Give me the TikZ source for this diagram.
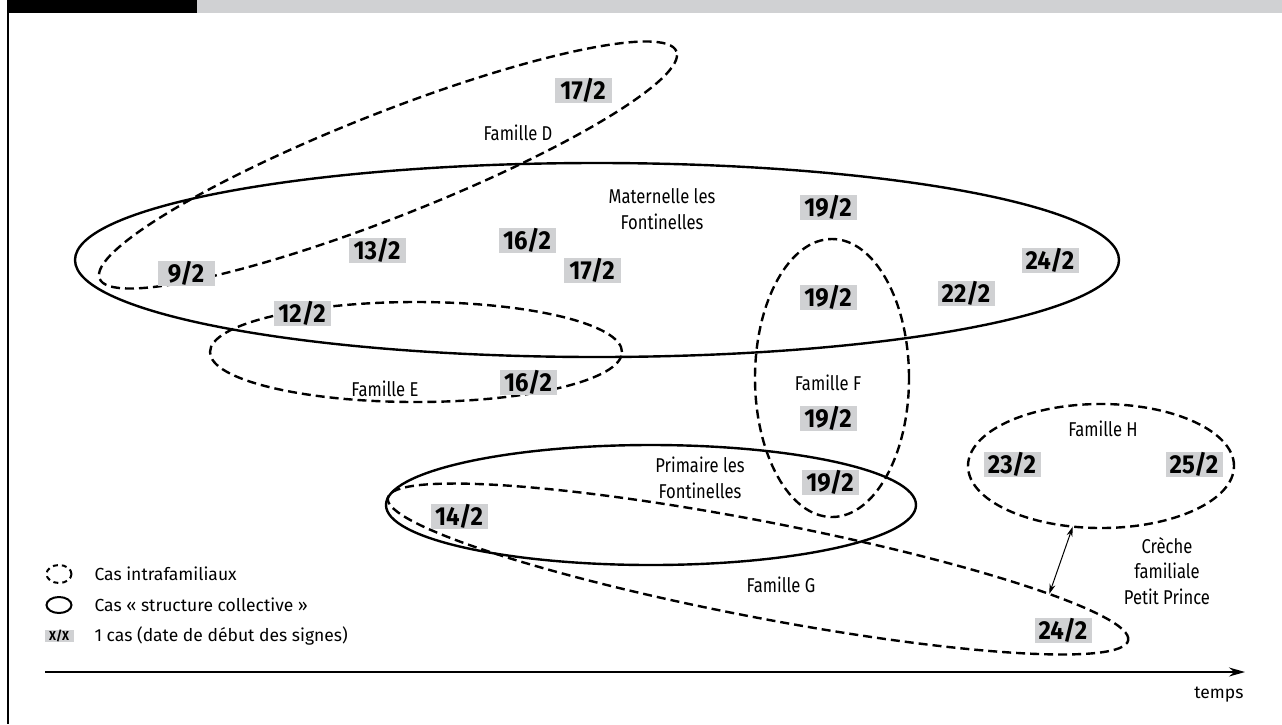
\documentclass[tikz,border=0pt]{standalone}
\usepackage{fontspec}
\setmainfont{Fira Sans}
\newfontfamily\datefont[FakeStretch=0.92]{Fira Sans}
\newfontfamily\labelfont[FakeStretch=0.83]{Fira Sans}
\usetikzlibrary{shapes.geometric,arrows.meta}
\definecolor{boxgray}{RGB}{208,209,211}

\tikzstyle{date} = [fill=boxgray,inner sep=0pt,minimum width=57pt,minimum height=25pt,font=\datefont\bfseries\fontsize{26}{26}\selectfont]
\tikzstyle{grp} = [align=center,font=\labelfont\fontsize{20}{25.5}\selectfont]
\tikzstyle{famille} = [ellipse,draw=black,line width=2.4pt,dash pattern=on 9pt off 5pt,inner sep=0pt,outer sep=0pt]
\tikzstyle{structure} = [ellipse,draw=black,line width=2.4pt,inner sep=0pt,outer sep=0pt]
\tikzstyle{legtext} = [anchor=west,font=\fontsize{17.5}{20}\selectfont]

\begin{document}
\begin{tikzpicture}[x=1pt,y=-1pt]
	\useasboundingbox (0,0) rectangle (1282,724);
	% frame
	\fill[black] (7,0) rectangle (197,13);
	\fill[boxgray] (197,0) rectangle (1282,13);
	\draw[line width=1.7pt] (8,13) -- (8,724);
	% structures
	\node (mat) [structure,minimum width=1044pt,minimum height=194pt] at (597,260) {};
	\node (prim) [structure,minimum width=530pt,minimum height=120pt] at (651,505) {};
	% familles
	\node (famD) [famille,minimum width=620pt,minimum height=104pt,rotate=21.5] at (388,165) {};
	\node (famE) [famille,minimum width=412pt,minimum height=100pt] at (416,352) {};
	\node (famF) [famille,minimum width=154pt,minimum height=278pt] at (832,378) {};
	\node (famG) [famille,minimum width=754pt,minimum height=96pt,rotate=-10.9] at (758,569) {};
	\node (famH) [famille,minimum width=266pt,minimum height=124pt] at (1101,466) {};
	% labels
	\node (labD) [grp] at (518,133) {Famille D};
	\node (labMat) [grp] at (662,209) {Maternelle les\\Fontinelles};
	\node (labE) [grp] at (385,389) {Famille E};
	\node (labF) [grp] at (828,383) {Famille F};
	\node (labPrim) [grp] at (700,478) {Primaire les\\Fontinelles};
	\node (labG) [grp] at (781,585) {Famille G};
	\node (labH) [grp] at (1103,429) {Famille H};
	\node (labCreche) [grp] at (1167,571) {Crèche\\familiale\\Petit Prince};
	% dates
	\node (d17a) [date] at (583,90) {17/2};
	\node (d19a) [date] at (828,207) {19/2};
	\node (d9) [date] at (186,273) {9/2};
	\node (d13) [date] at (377,250) {13/2};
	\node (d16a) [date] at (527,240) {16/2};
	\node (d17b) [date] at (592,270) {17/2};
	\node (d24a) [date] at (1050,260) {24/2};
	\node (d22) [date] at (966,293) {22/2};
	\node (d19b) [date] at (828,297) {19/2};
	\node (d12) [date] at (302,313) {12/2};
	\node (d16b) [date] at (528,382) {16/2};
	\node (d19c) [date] at (828,418) {19/2};
	\node (d19d) [date] at (830,482) {19/2};
	\node (d14) [date] at (459,516) {14/2};
	\node (d24b) [date] at (1063,630) {24/2};
	\node (d23) [date] at (1012,464) {23/2};
	\node (d25) [date] at (1194,464) {25/2};
	% creche link
	\draw [line width=1pt,{Stealth[length=10pt,width=6pt]}-{Stealth[length=10pt,width=6pt]}] (famG.6.45) -- (famH.245.3);
	% time axis
	\coordinate (t0) at (45,672);
	\coordinate (t1) at (1245,672);
	\draw [line width=1.6pt,-{Stealth[length=16pt,width=9pt]}] (t0) -- (t1);
	\node (temps) [anchor=east,font=\fontsize{17.5}{20}\selectfont] at (1247,695) {temps};
	% legend
	\node (legFam) [famille,minimum width=25pt,minimum height=18pt,line width=2pt,dash pattern=on 5pt off 4pt] at (59,574) {};
	\node (legStr) [structure,minimum width=25pt,minimum height=16pt,line width=2pt] at (59,605) {};
	\node (legDate) [date,minimum width=29pt,minimum height=12pt,font=\datefont\bfseries\fontsize{13}{13}\selectfont] at (59,636) {X/X};
	\node (txtFam) [legtext] at (91,574) {Cas intrafamiliaux};
	\node (txtStr) [legtext] at (91,605) {Cas « structure collective »};
	\node (txtDate) [legtext] at (91,636) {1 cas (date de début des signes)};
\end{tikzpicture}
\end{document}
